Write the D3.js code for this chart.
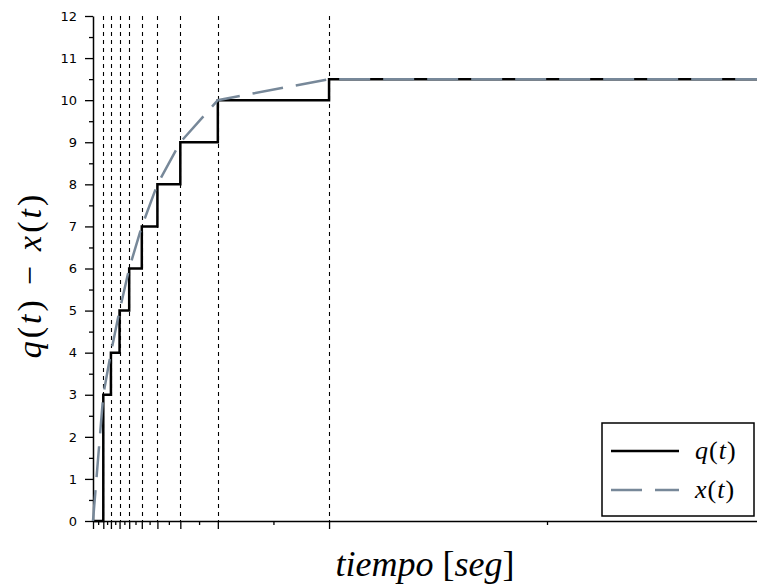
<!doctype html>
<html>
  <head>
    <script src="https://cdnjs.cloudflare.com/ajax/libs/d3/7.8.5/d3.min.js"></script>
    <style>
      body { margin: 0; background: #fff; }
      svg { display: block; }
    </style>
  </head>
  <body>
    <svg id="chart" width="757" height="584"></svg>
    <script>
        // event times (when q jumps) and the quantized levels
        var eventTimes = [0, 0.31, 0.54, 0.80, 1.09, 1.47, 1.94, 2.63, 3.76, 7.11];
        var qLevels = [0, 3, 4, 5, 6, 7, 8, 9, 10, 10.5];
        // x(t) sampled points
        var xTimes = [0, 0.31, 0.54, 0.80, 1.09, 1.47, 1.94, 2.63, 3.76, 7.11, 20];
        var xValues = [0, 3, 4, 5, 6, 7, 8, 9, 10, 10.5, 10.5];
        var nextEvent = 20.24;
        var tEnd = 20;
        var yTicks = d3.range(0, 13);

        var margin = {top: 16, right: 0, bottom: 63, left: 93};
        var W = 757, H = 584;
        var w = W - margin.left - margin.right, h = H - margin.top - margin.bottom;

        var svg = d3.select("#chart");
        var g = svg.append("g").attr("transform", "translate(" + margin.left + "," + margin.top + ")");

        var x = d3.scaleLinear().domain([0, tEnd]).range([0, w]);
        var y = d3.scaleLinear().domain([0, 12]).range([h, 0]);

        // vertical dashed lines at each event
        g.selectAll("line.ev")
            .data(eventTimes.slice(1))
            .enter()
            .append("line")
                .attr("class", "ev")
                .attr("x1", d => Math.round(x(d)) + 0.5).attr("x2", d => Math.round(x(d)) + 0.5)
                .attr("y1", y(12)).attr("y2", y(0))
                .style("stroke", "black")
                .style("stroke-width", 1.1)
                .style("stroke-dasharray", "4,4");

        // x axis: major at events, minor at midpoints
        var allEv = eventTimes.concat([nextEvent]);
        var mids = [];
        for (var i = 0; i < allEv.length - 1; i++) mids.push((allEv[i] + allEv[i + 1]) / 2);

        var xMajor = g.append("g").attr("transform", "translate(0," + h + ")")
            .call(d3.axisBottom(x).tickValues(eventTimes).tickFormat("").tickSizeInner(8).tickSizeOuter(0));
        var xMinor = g.append("g").attr("transform", "translate(0," + h + ")")
            .call(d3.axisBottom(x).tickValues(mids.filter(d => d <= tEnd)).tickFormat("").tickSizeInner(4).tickSizeOuter(0));
        xMinor.select(".domain").remove();

        var yMinorVals = d3.range(0, 12).map(d => d + 0.5);
        var yMajor = g.append("g")
            .call(d3.axisLeft(y).tickValues(yTicks).tickSizeInner(8).tickSizeOuter(0).tickPadding(8));
        var yMinor = g.append("g")
            .call(d3.axisLeft(y).tickValues(yMinorVals).tickFormat("").tickSizeInner(4).tickSizeOuter(0));
        yMinor.select(".domain").remove();

        g.selectAll(".domain").style("stroke", "black").style("stroke-width", 1.5);
        g.selectAll(".tick line").style("stroke", "black").style("stroke-width", 1.3);
        yMajor.selectAll("text")
            .style("font-family", "DejaVu Sans")
            .style("font-size", "13px")
            .style("fill", "black");

        // q(t) step
        var qPts = eventTimes.map((t, i) => [t, qLevels[i]]);
        qPts.push([tEnd, qLevels[qLevels.length - 1]]);
        var stepLine = d3.line().x(d => x(d[0])).y(d => y(d[1])).curve(d3.curveStepAfter);
        g.append("path")
            .attr("d", stepLine(qPts))
            .style("fill", "none")
            .style("stroke", "black")
            .style("stroke-width", 2.5);

        // x(t)
        var xLine = d3.line().x(d => x(d[0])).y(d => y(d[1]));
        g.append("path")
            .attr("d", xLine(xTimes.map((t, i) => [t, xValues[i]])))
            .style("fill", "none")
            .style("stroke", "#778899")
            .style("stroke-width", 2.5)
            .style("stroke-dasharray", "31,13");

        // axis labels
        var xl = svg.append("text")
            .attr("x", 425).attr("y", 576)
            .attr("text-anchor", "middle")
            .style("font-family", "Liberation Serif")
            .style("font-size", "36px");
        xl.append("tspan").style("font-style", "italic").text("tiempo");
        xl.append("tspan").text(" [");
        xl.append("tspan").style("font-style", "italic").text("seg");
        xl.append("tspan").text("]");

        var yl = svg.append("text")
            .attr("transform", "translate(41,275) rotate(-90)")
            .attr("text-anchor", "middle")
            .style("font-family", "Liberation Serif")
            .style("font-size", "34px")
            .style("letter-spacing", "3px");
        yl.append("tspan").style("font-style", "italic").text("q");
        yl.append("tspan").text("(");
        yl.append("tspan").style("font-style", "italic").text("t");
        yl.append("tspan").text(")");
        yl.append("tspan").attr("dx", 12).text("\u2212");
        yl.append("tspan").attr("dx", 12).style("font-style", "italic").text("x");
        yl.append("tspan").text("(");
        yl.append("tspan").style("font-style", "italic").text("t");
        yl.append("tspan").text(")");

        // legend
        var lg = svg.append("g").attr("transform", "translate(602,423)");
        lg.append("rect")
            .attr("width", 152).attr("height", 93)
            .style("fill", "white")
            .style("stroke", "black")
            .style("stroke-width", 1.5);
        var items = [
            {name: "q", color: "black", dash: null, yy: 28},
            {name: "x", color: "#778899", dash: "31,13", yy: 67}
        ];
        items.forEach(it => {
            lg.append("line")
                .attr("x1", 9).attr("x2", 77).attr("y1", it.yy).attr("y2", it.yy)
                .style("stroke", it.color)
                .style("stroke-width", 2.5)
                .style("stroke-dasharray", it.dash);
            var t = lg.append("text")
                .attr("x", 93).attr("y", it.yy + 8)
                .style("font-family", "Liberation Serif")
                .style("font-size", "26px")
                .style("letter-spacing", "1px");
            t.append("tspan").style("font-style", "italic").text(it.name);
            t.append("tspan").text("(");
            t.append("tspan").style("font-style", "italic").text("t");
            t.append("tspan").text(")");
        });
    </script>
  </body>
</html>
